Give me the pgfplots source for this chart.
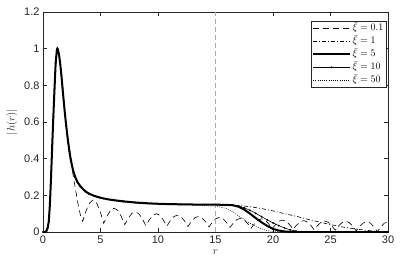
\documentclass[border=0pt]{standalone}
\usepackage{fontspec}
\setsansfont{Liberation Sans}
\usepackage{pgfplots}
\pgfplotsset{compat=1.18}
\definecolor{axgray}{gray}{0.15}
\definecolor{refred}{RGB}{255,135,135}
\begin{document}
\begin{tikzpicture}
\begin{axis}[name=ax, width=345bp, height=220bp, scale only axis,
 xmin=0, xmax=30, ymin=0, ymax=1.2,
 xtick={0,5,10,15,20,25,30}, ytick={0,0.2,0.4,0.6,0.8,1,1.2},
 tick align=inside, major tick length=4bp,
 axis line style={axgray, line width=0.5pt},
 every tick/.style={axgray, line width=0.5pt},
 /pgf/number format/assume math mode=true,
 /pgf/number format/fixed,
 ticklabel style={font=\sffamily\fontsize{11}{13}\selectfont, text=axgray},
 xlabel={$r$}, ylabel={$|h(r)|$},
 label style={text=axgray, font=\fontsize{11}{13}\selectfont},
 legend style={at={(rel axis cs:0.994,0.959)}, anchor=north east,
   font=\fontsize{10}{12}\selectfont, draw=axgray, line width=0.4pt,
   inner sep=1pt, row sep=0.8bp,
   nodes={text height=7.2bp, text depth=2.2bp, inner sep=1.4bp},
   cells={anchor=west}},
 legend image code/.code={\draw[mark repeat=2,mark phase=2,#1] plot coordinates {(0bp,0bp) (18.5bp,0bp) (37bp,0bp)};},
 legend cell align=left,
]
% xi = 0.1 (dashed)
\addplot[black, line width=0.6bp, dash pattern=on 6bp off 4bp] coordinates {
(0,0) (0.1,0) (0.2,0.001) (0.3,0.006) (0.4,0.022) (0.5,0.055) (0.6,0.15) (0.7,0.30) (0.8,0.47) (0.9,0.63) (1.0,0.78) (1.1,0.92) (1.2,0.99) (1.25,1.0) (1.3,0.995) (1.4,0.965) (1.5,0.915) (1.6,0.855) (1.7,0.785) (1.8,0.715) (1.9,0.65) (2.0,0.59) (2.1,0.535) (2.2,0.485)
(2.3,0.425) (2.5,0.355) (2.7,0.28) (2.9,0.205) (3.1,0.135) (3.3,0.08) (3.45,0.058)
(3.755,0.117) (4.06,0.159) (4.365,0.175) (4.67,0.158) (4.975,0.111)
(5.28,0.047) (5.585,0.088) (5.89,0.119) (6.195,0.130) (6.5,0.118) (6.805,0.085)
(7.11,0.040) (7.415,0.075) (7.72,0.101) (8.025,0.110) (8.33,0.100) (8.635,0.072)
(8.94,0.035) (9.245,0.067) (9.55,0.091) (9.855,0.100) (10.16,0.091) (10.465,0.066)
(10.77,0.032) (11.075,0.062) (11.38,0.084) (11.685,0.092) (11.99,0.084) (12.295,0.061)
(12.6,0.030) (12.905,0.057) (13.21,0.078) (13.515,0.085) (13.82,0.077) (14.125,0.056)
(14.43,0.028) (14.735,0.054) (15.04,0.073) (15.345,0.080) (15.65,0.073) (15.955,0.052)
(16.26,0.025) (16.565,0.050) (16.87,0.068) (17.175,0.075) (17.48,0.068) (17.785,0.047)
(18.09,0.020) (18.395,0.046) (18.7,0.065) (19.005,0.072) (19.31,0.065) (19.615,0.045)
(19.92,0.018) (20.225,0.041) (20.53,0.059) (20.835,0.065) (21.14,0.058) (21.445,0.040)
(21.75,0.015) (22.055,0.038) (22.36,0.056) (22.665,0.062) (22.97,0.055) (23.275,0.037)
(23.58,0.012) (23.885,0.036) (24.19,0.054) (24.495,0.060) (24.8,0.053) (25.105,0.035)
(25.41,0.010) (25.715,0.034) (26.02,0.052) (26.325,0.058) (26.63,0.051) (26.935,0.032)
(27.24,0.006) (27.545,0.031) (27.85,0.049) (28.155,0.056) (28.46,0.049) (28.765,0.029)
(29.07,0.002) (29.375,0.028) (29.68,0.048) (29.985,0.055) (30,0.055)
};
\addlegendentry{$\bar{\xi}=0.1$}
% xi = 1 (dash-dot)
\addplot[black, line width=0.6bp, dash pattern=on 4bp off 2bp on 1bp off 2bp] coordinates {
(0,0) (0.1,0) (0.2,0.001) (0.3,0.006) (0.4,0.022) (0.5,0.055) (0.6,0.15) (0.7,0.30) (0.8,0.47) (0.9,0.63) (1.0,0.78) (1.1,0.92) (1.2,0.99) (1.25,1.0) (1.3,0.995) (1.4,0.965) (1.5,0.915) (1.6,0.855) (1.7,0.785) (1.8,0.715) (1.9,0.65) (2.0,0.59) (2.1,0.535) (2.2,0.485) (2.3,0.44) (2.4,0.40) (2.6,0.34) (2.8,0.30) (3.0,0.272) (3.25,0.25) (3.5,0.232) (3.75,0.219) (4,0.209) (4.5,0.196) (5,0.187) (5.5,0.18) (6,0.175) (7,0.167) (8,0.161) (9,0.157) (10,0.154) (11,0.152) (12,0.151) (13,0.15) (14,0.15) (15,0.149) (16,0.148)
(17,0.145) (18,0.138) (19,0.128) (20,0.115) (21,0.10) (22,0.086) (23,0.07) (24,0.055) (25,0.04) (26,0.028) (27,0.018) (28,0.01) (29,0.004) (30,0.001)
};
\addlegendentry{$\bar{\xi}=1$}
% xi = 5 (thick)
\addplot[black, line width=2bp] coordinates {
(0,0) (0.1,0) (0.2,0.001) (0.3,0.006) (0.4,0.022) (0.5,0.055) (0.6,0.15) (0.7,0.30) (0.8,0.47) (0.9,0.63) (1.0,0.78) (1.1,0.92) (1.2,0.99) (1.25,1.0) (1.3,0.995) (1.4,0.965) (1.5,0.915) (1.6,0.855) (1.7,0.785) (1.8,0.715) (1.9,0.65) (2.0,0.59) (2.1,0.535) (2.2,0.485) (2.3,0.44) (2.4,0.40) (2.6,0.34) (2.8,0.30) (3.0,0.272) (3.25,0.25) (3.5,0.232) (3.75,0.219) (4,0.209) (4.5,0.196) (5,0.187) (5.5,0.18) (6,0.175) (7,0.167) (8,0.161) (9,0.157) (10,0.154) (11,0.152) (12,0.151) (13,0.15) (14,0.15) (15,0.149) (16,0.148) (16.5,0.146)
(17,0.138) (17.5,0.122) (18,0.10) (18.5,0.076) (19,0.053) (19.5,0.033) (20,0.017) (20.5,0.008) (21,0.003) (21.5,0.001) (22,0) (30,0)
};
\addlegendentry{$\bar{\xi}=5$}
% xi = 10 (thin with dots)
\addplot[black, line width=0.6bp, mark=*, mark size=0.75bp, mark options={solid, fill=black, line width=0.3bp}] coordinates {
(0,0) (0.1,0) (0.2,0.001) (0.3,0.006) (0.4,0.022) (0.5,0.055) (0.6,0.15) (0.7,0.30) (0.8,0.47) (0.9,0.63) (1.0,0.78) (1.1,0.92) (1.2,0.99) (1.25,1.0) (1.3,0.995) (1.4,0.965) (1.5,0.915) (1.6,0.855) (1.7,0.785) (1.8,0.715) (1.9,0.65) (2.0,0.59) (2.1,0.535) (2.2,0.485) (2.3,0.44) (2.4,0.40) (2.6,0.34) (2.8,0.30) (3.0,0.272) (3.25,0.25) (3.5,0.232) (3.75,0.219) (4,0.209) (4.5,0.196) (5,0.187) (5.5,0.18) (6,0.175) (7,0.167) (8,0.161) (9,0.157) (10,0.154) (11,0.152) (12,0.151) (13,0.15) (14,0.15) (15,0.149) (16,0.148) (16.5,0.147)
(17,0.142) (17.5,0.132) (18,0.118) (18.5,0.102) (19,0.084) (19.5,0.066) (20,0.05) (20.5,0.035) (21,0.022) (21.5,0.012) (22,0.005) (22.5,0.002) (23,0) (24,0) (25,0) (26,0) (27,0) (28,0) (29,0) (30,0)
};
\addlegendentry{$\bar{\xi}=10$}
% xi = 50 (dotted)
\addplot[black, line width=0.6bp, dash pattern=on 0.8bp off 1.4bp] coordinates {
(0,0) (0.1,0) (0.2,0.001) (0.3,0.006) (0.4,0.022) (0.5,0.055) (0.6,0.15) (0.7,0.30) (0.8,0.47) (0.9,0.63) (1.0,0.78) (1.1,0.92) (1.2,0.99) (1.25,1.0) (1.3,0.995) (1.4,0.965) (1.5,0.915) (1.6,0.855) (1.7,0.785) (1.8,0.715) (1.9,0.65) (2.0,0.59) (2.1,0.535) (2.2,0.485) (2.3,0.44) (2.4,0.40) (2.6,0.338) (2.8,0.297) (3.0,0.268) (3.5,0.228) (4,0.205) (5,0.183) (6,0.171) (7,0.163) (8,0.157) (9,0.153) (10,0.151) (11,0.149) (12,0.148) (13,0.147) (14,0.145) (15,0.14) (15.5,0.135) (16,0.127) (16.5,0.11) (17,0.088) (17.5,0.068) (18,0.048) (18.5,0.03) (19,0.017) (19.5,0.008) (20,0.003) (21,0) (30,0)
};
\addlegendentry{$\bar{\xi}=50$}
% vertical marker at r = 15 (light red dashed)
\addplot[draw=refred, line width=1.4bp, dash pattern=on 5bp off 3bp, forget plot] coordinates {(15,0) (15,1.2)};
\end{axis}
\pgfresetboundingbox
\path[use as bounding box] ([xshift=-43bp,yshift=-40bp]ax.south west) rectangle ([xshift=19bp,yshift=12bp]ax.north east);
\end{tikzpicture}
\end{document}
